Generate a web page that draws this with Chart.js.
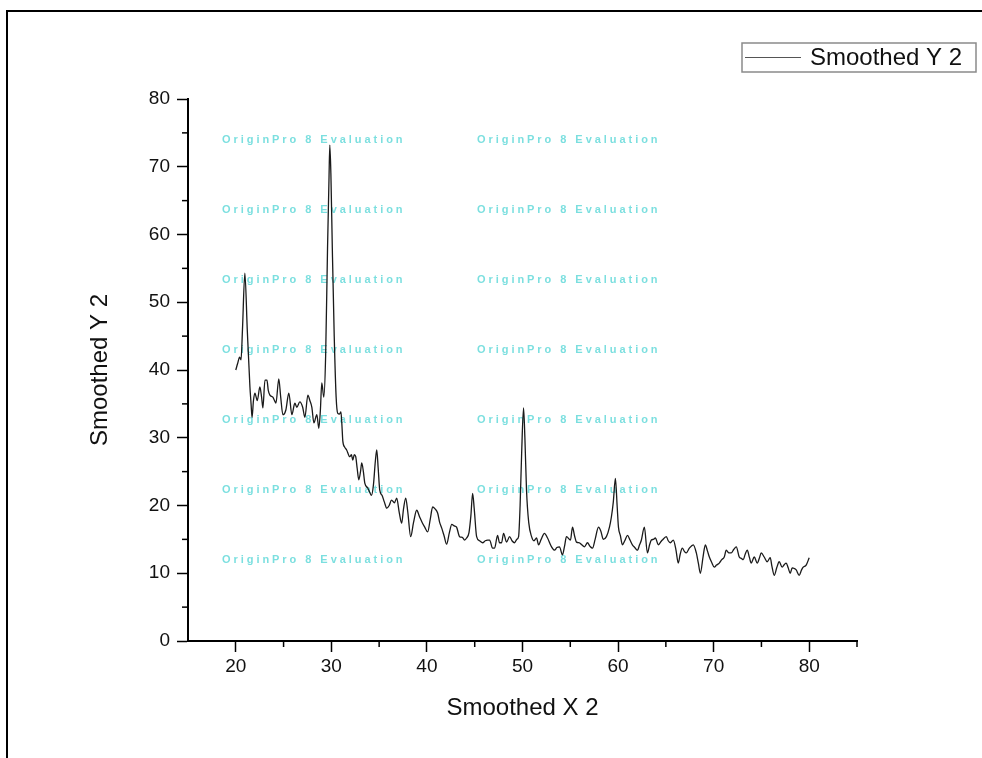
<!DOCTYPE html>
<html>
<head>
<meta charset="utf-8">
<script src="https://cdn.jsdelivr.net/npm/chart.js@4.4.1/dist/chart.umd.min.js"></script>
<style>
  body { margin: 0; background: #fff; }
  #wrap { position: relative; width: 982px; height: 758px; }
  #frame { position: absolute; left: 6px; top: 10px; right: 0; bottom: 0; border-top: 2px solid #000; border-left: 2px solid #000; }
  canvas { position: absolute; left: 0; top: 0; }
</style>
</head>
<body>
<div id="wrap">
  <div id="frame"></div>
  <canvas id="xrdChart" width="982" height="758"></canvas>
</div>
<script>
// Smoothed X 2 (2-theta) and Smoothed Y 2 values
const xs = [20.00, 20.20, 20.40, 20.55, 20.70, 20.95, 21.20, 21.48, 21.60, 21.70, 21.85, 22.00, 22.25, 22.52, 22.70, 22.84, 23.05, 23.26, 23.40, 23.57,
  23.88, 24.05, 24.20, 24.50, 24.70, 24.93, 25.24, 25.55, 25.87, 26.18, 26.39, 26.70, 27.00, 27.23, 27.54, 27.75, 27.96, 28.17, 28.48, 28.69,
  28.85, 29.00, 29.21, 29.40, 29.60, 29.75, 29.84, 29.95, 30.10, 30.30, 30.50, 30.67, 30.85, 31.00, 31.10, 31.20, 31.40, 31.60, 31.93, 32.10,
  32.24, 32.40, 32.55, 32.70, 32.87, 33.05, 33.18, 33.35, 33.50, 33.80, 34.00, 34.20, 34.40, 34.60, 34.75, 34.90, 35.06, 35.30, 35.55, 35.80,
  36.05, 36.30, 36.60, 36.84, 37.10, 37.36, 37.55, 37.78, 38.00, 38.30, 38.60, 38.93, 39.24, 39.50, 39.77, 40.08, 40.35, 40.60, 40.85, 41.12,
  41.33, 41.54, 41.80, 42.06, 42.35, 42.60, 42.85, 43.10, 43.42, 43.70, 43.94, 44.15, 44.40, 44.60, 44.78, 44.95, 45.20, 45.50, 45.83, 46.10,
  46.35, 46.56, 46.87, 47.08, 47.39, 47.60, 47.81, 48.02, 48.33, 48.65, 48.90, 49.17, 49.40, 49.59, 49.75, 49.90, 50.11, 50.25, 50.42, 50.65,
  50.95, 51.20, 51.47, 51.68, 51.95, 52.30, 52.62, 53.04, 53.35, 53.60, 53.87, 54.18, 54.40, 54.60, 55.02, 55.23, 55.45, 55.65, 55.96, 56.20,
  56.48, 56.80, 57.05, 57.32, 57.60, 57.95, 58.20, 58.45, 58.78, 59.10, 59.30, 59.50, 59.72, 59.90, 60.04, 60.25, 60.45, 60.70, 60.98, 61.25,
  61.50, 61.75, 62.02, 62.25, 62.44, 62.75, 63.07, 63.30, 63.48, 63.70, 63.90, 64.22, 64.45, 64.63, 65.05, 65.25, 65.47, 65.78, 66.05, 66.30,
  66.50, 66.72, 66.95, 67.14, 67.46, 67.87, 68.19, 68.40, 68.61, 68.90, 69.13, 69.35, 69.55, 69.80, 70.07, 70.30, 70.59, 70.85, 71.11, 71.32,
  71.60, 71.84, 72.10, 72.37, 72.68, 72.90, 73.10, 73.30, 73.52, 73.75, 73.93, 74.25, 74.56, 74.80, 74.98, 75.29, 75.60, 75.92, 76.10, 76.34,
  76.60, 76.86, 77.17, 77.40, 77.59, 77.80, 78.01, 78.22, 78.45, 78.64, 78.95, 79.20, 79.37, 79.68, 80.00];
const ys = [40.0, 41.0, 41.9, 41.5, 46.0, 54.3, 46.0, 37.5, 35.0, 33.0, 35.5, 36.6, 35.5, 37.5, 36.0, 34.4, 38.5, 38.5, 37.0, 36.3,
  36.0, 35.5, 35.1, 38.7, 36.0, 33.4, 34.1, 36.6, 33.4, 35.1, 34.5, 35.3, 34.5, 33.0, 36.3, 35.5, 34.5, 32.2, 33.4, 31.4,
  34.0, 38.1, 36.0, 42.0, 58.0, 68.0, 73.2, 69.0, 58.0, 45.0, 36.0, 33.6, 33.5, 33.8, 32.0, 29.5, 28.6, 28.2, 27.2, 27.5,
  26.7, 27.5, 27.2, 25.5, 23.8, 25.0, 26.3, 25.0, 23.3, 22.6, 22.0, 21.5, 23.0, 26.5, 28.2, 25.5, 22.3, 21.5, 20.5, 19.6,
  20.0, 20.8, 20.4, 21.1, 19.0, 17.4, 19.5, 21.1, 19.0, 15.4, 17.5, 19.3, 18.3, 17.5, 16.8, 16.1, 18.0, 19.8, 19.5, 18.9,
  17.5, 16.7, 15.5, 14.3, 16.0, 17.2, 17.0, 16.8, 15.4, 15.3, 14.9, 15.2, 16.0, 18.5, 21.8, 19.5, 15.4, 14.8, 14.5, 14.8,
  14.9, 14.9, 13.7, 13.7, 15.6, 14.5, 14.5, 15.9, 14.6, 15.4, 14.8, 14.5, 15.0, 15.4, 20.0, 27.2, 34.4, 30.0, 22.3, 17.5,
  15.4, 14.8, 15.2, 14.2, 15.0, 15.9, 15.2, 13.9, 13.4, 13.8, 13.9, 12.7, 14.0, 15.4, 14.9, 16.8, 15.5, 14.6, 14.5, 14.2,
  13.9, 14.5, 14.0, 13.7, 15.0, 16.8, 16.2, 15.0, 15.4, 16.8, 18.3, 20.5, 24.0, 20.0, 16.8, 15.5, 14.2, 14.8, 15.6, 14.9,
  14.2, 13.8, 13.4, 14.2, 14.9, 16.8, 13.0, 14.2, 14.9, 15.0, 15.2, 14.2, 14.6, 14.9, 15.4, 14.8, 14.5, 14.9, 13.5, 11.5,
  12.8, 13.7, 13.2, 13.0, 13.7, 14.2, 13.0, 11.5, 10.0, 12.5, 14.2, 13.3, 12.4, 11.6, 10.9, 11.2, 11.5, 12.0, 12.4, 13.4,
  13.0, 13.0, 13.5, 13.9, 12.4, 12.2, 12.0, 12.8, 13.4, 12.3, 11.5, 12.4, 11.5, 12.3, 13.0, 12.4, 11.7, 12.3, 11.0, 9.7,
  10.8, 11.7, 10.9, 11.3, 11.5, 10.8, 10.0, 10.8, 10.7, 10.5, 9.7, 10.5, 10.9, 11.2, 12.3];

const seriesLabel = 'Smoothed Y 2';
const xTitle = 'Smoothed X 2';
const yTitle = 'Smoothed Y 2';
const watermark = 'OriginPro 8 Evaluation';

const points = xs.map((x, i) => ({ x: x, y: ys[i] }));

const FONT = 'Arial, "Liberation Sans", sans-serif';

// trial-version watermark text behind the curve
const watermarkPlugin = {
  id: 'watermark',
  beforeDatasetsDraw(chart) {
    const ctx = chart.ctx;
    ctx.save();
    ctx.font = 'bold 11px ' + FONT;
    ctx.fillStyle = 'rgba(90, 215, 215, 0.8)';
    ctx.textBaseline = 'middle';
    ctx.letterSpacing = '2.95px';
    [222, 477].forEach(x => {
      for (let r = 0; r < 7; r++) {
        ctx.fillText(watermark, x, 140 + r * 70);
      }
    });
    ctx.restore();
  }
};

// short minor ticks at the odd multiples of 5
const minorTicks = {
  id: 'minorTicks',
  afterDraw(chart) {
    const ctx = chart.ctx;
    ctx.save();
    ctx.strokeStyle = '#000';
    ctx.lineWidth = 1.5;
    const sx = chart.scales.x, sy = chart.scales.y;
    sx.ticks.forEach(t => {
      if (t.value % 10 === 0 || t.value === sx.min) return;
      const px = sx.getPixelForValue(t.value);
      ctx.beginPath();
      ctx.moveTo(px, sx.top);
      ctx.lineTo(px, sx.top + 6);
      ctx.stroke();
    });
    sy.ticks.forEach(t => {
      if (t.value % 10 === 0) return;
      const py = sy.getPixelForValue(t.value);
      ctx.beginPath();
      ctx.moveTo(sy.right, py);
      ctx.lineTo(sy.right - 6, py);
      ctx.stroke();
    });
    ctx.restore();
  }
};

// boxed legend in the top right corner
const boxLegend = {
  id: 'boxLegend',
  afterDraw(chart) {
    const ctx = chart.ctx;
    ctx.save();
    ctx.strokeStyle = '#8a8a8a';
    ctx.lineWidth = 1.5;
    ctx.strokeRect(742, 43, 234, 29);
    ctx.strokeStyle = '#555';
    ctx.lineWidth = 1;
    ctx.beginPath();
    ctx.moveTo(745, 57.5);
    ctx.lineTo(801, 57.5);
    ctx.stroke();
    ctx.fillStyle = '#111';
    ctx.font = '24px ' + FONT;
    ctx.textBaseline = 'middle';
    ctx.fillText(chart.data.datasets[0].label, 810, 58);
    ctx.restore();
  }
};

const majorOnly = c => (c.tick && c.tick.value % 10 === 0) ? '#000' : 'rgba(0,0,0,0)';

new Chart(document.getElementById('xrdChart').getContext('2d'), {
  type: 'line',
  data: {
    datasets: [{
      label: seriesLabel,
      data: points,
      borderColor: '#1a1a1a',
      borderWidth: 1.3,
      pointRadius: 0,
      cubicInterpolationMode: 'monotone',
      fill: false
    }]
  },
  options: {
    responsive: false,
    animation: false,
    devicePixelRatio: 1,
    layout: { padding: { left: 80, top: 99, right: 125, bottom: 35 } },
    plugins: {
      legend: { display: false },
      tooltip: { enabled: false }
    },
    scales: {
      x: {
        type: 'linear',
        min: 15,
        max: 85,
        afterFit: s => { s.height = 82; },
        border: { color: '#000', width: 2 },
        grid: { drawOnChartArea: false, drawTicks: true, tickLength: 11, tickColor: majorOnly, tickWidth: 1.5 },
        ticks: {
          stepSize: 5,
          autoSkip: false,
          maxRotation: 0,
          padding: 3,
          color: '#111',
          font: { family: FONT, size: 19 },
          callback: v => (v % 10 === 0 ? String(v) : '')
        },
        title: { display: true, text: xTitle, color: '#111', font: { family: FONT, size: 24 }, padding: { top: 0, bottom: 0 } }
      },
      y: {
        min: 0,
        max: 80,
        afterFit: s => { s.width = 108; },
        border: { color: '#000', width: 2 },
        grid: { drawOnChartArea: false, drawTicks: true, tickLength: 11, tickColor: majorOnly, tickWidth: 1.5 },
        ticks: {
          stepSize: 5,
          autoSkip: false,
          padding: 7,
          color: '#111',
          font: { family: FONT, size: 19 },
          callback: v => (v % 10 === 0 ? String(v) : '')
        },
        title: { display: true, text: yTitle, color: '#111', font: { family: FONT, size: 24 }, padding: { top: 6, bottom: 0 } }
      }
    }
  },
  plugins: [watermarkPlugin, minorTicks, boxLegend]
});
</script>
</body>
</html>
